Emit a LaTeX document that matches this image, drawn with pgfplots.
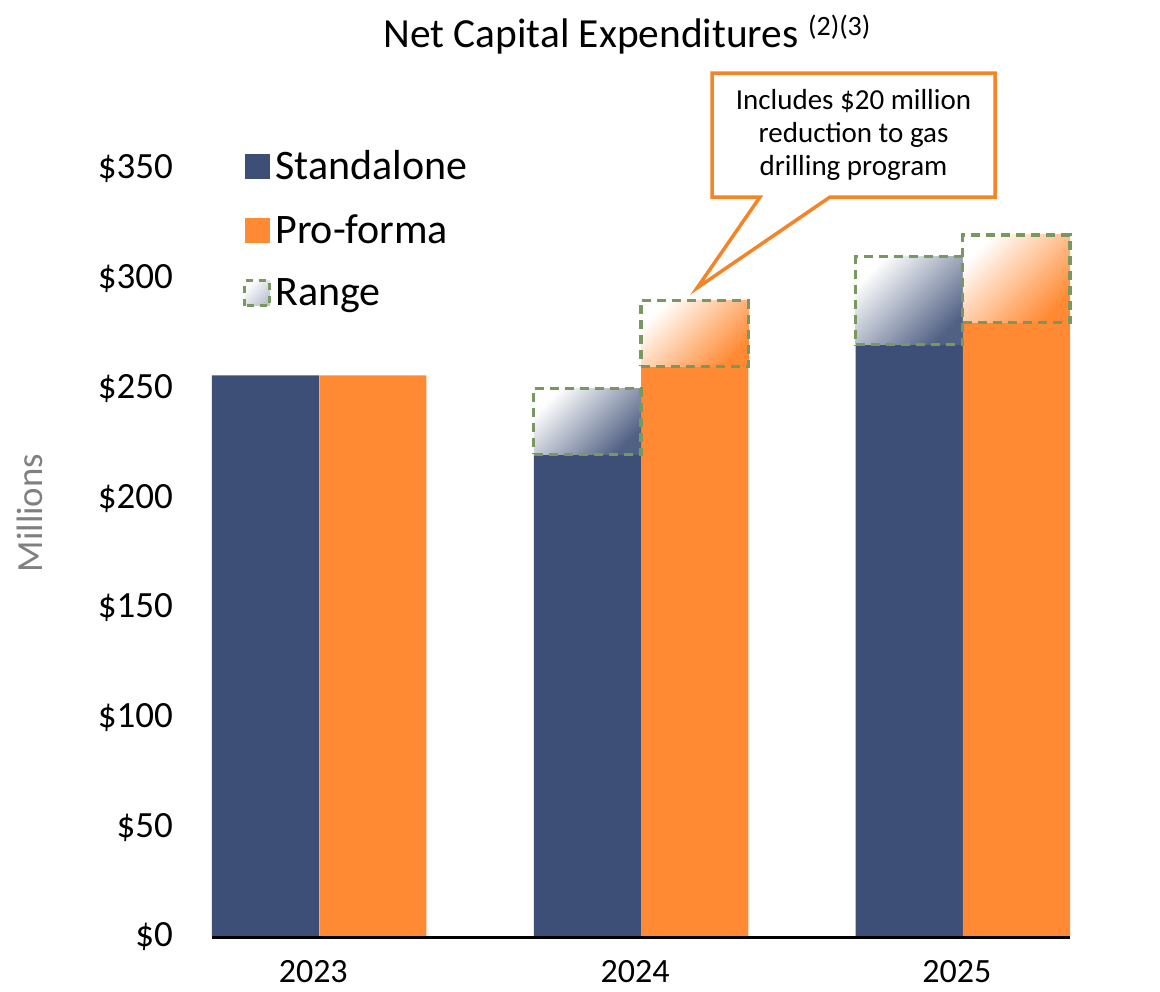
\documentclass[border=0pt]{standalone}
\usepackage{pgfplots}
\pgfplotsset{compat=1.18}
\usepackage{fontspec}
\setmainfont{Carlito}
\definecolor{sblue}{RGB}{61,79,118}
\definecolor{sorange}{RGB}{255,138,51}
\definecolor{rgreen}{RGB}{120,152,95}
\definecolor{cborder}{RGB}{245,132,39}
\definecolor{mgray}{RGB}{128,128,128}
\begin{document}
\begin{tikzpicture}
\begin{scope}[x=0.5pt,y=-0.5pt]
\useasboundingbox (0,0) rectangle (1160,991);
\end{scope}
\begin{axis}[
  at={(106pt,-468.5pt)}, anchor=south west,
  scale only axis, width=429pt, height=384pt,
  xmin=-0.3333, xmax=2.3333, ymin=0, ymax=350,
  clip=false, axis on top,
  axis x line*=bottom, axis y line*=left,
  x axis line style={black, line width=1.5pt},
  y axis line style={draw=none},
  tick style={draw=none},
  xtick={0,1,2}, xticklabels={\raisebox{-2pt}{2023},2024,2025},
  xticklabel style={font=\fontsize{17}{20}\selectfont, xshift=-3pt, yshift=-8pt},
  ytick={0,50,100,150,200,250,300,350},
  yticklabels={\$0,\$50,\$100,\$150,\$200,\$250,\$300,\$350},
  yticklabel style={font=\fontsize{18.5}{22}\selectfont, xshift=-16pt},
  legend image code/.code={\path[#1] (0pt,-6.25pt) rectangle (12.5pt,6.25pt);},
  legend style={at={(axis description cs:0.036,1.03)}, anchor=north west, draw=none, fill=none,
    font=\fontsize{21}{25}\selectfont, row sep=12pt, inner sep=0pt,
    /tikz/every even column/.append style={column sep=3pt}},
  legend cell align=left,
]
\addlegendimage{draw=none, fill=sblue}
\addlegendentry{Standalone}
\addlegendimage{draw=none, fill=sorange}
\addlegendentry{Pro-forma}
\addlegendimage{draw=rgreen, line width=1.5pt, dash pattern=on 3.5pt off 3pt, top color=white, bottom color=sblue!35, shading angle=45}
\addlegendentry{Range}
% Standalone bars
\addplot[forget plot, ybar, bar width=0.3333, bar shift=0pt, fill=sblue, draw=none]
  coordinates {(-0.16667,256) (0.83333,220) (1.83333,270)};
% Pro-forma bars
\addplot[forget plot, ybar, bar width=0.3333, bar shift=0pt, fill=sorange, draw=none]
  coordinates {(0.16667,256) (1.16667,260) (2.16667,280)};
% Range boxes
\addplot[forget plot, draw=rgreen, line width=1.7pt, dash pattern=on 4.5pt off 3pt, top color=white, middle color=sblue!16, bottom color=sblue!90, shading angle=45]
  coordinates {(0.66667,220) (1.0,220) (1.0,250) (0.66667,250)} --cycle;
\addplot[forget plot, draw=rgreen, line width=1.7pt, dash pattern=on 4.5pt off 3pt, top color=white, middle color=sorange!35, bottom color=sorange, shading angle=45]
  coordinates {(1.0,260) (1.33333,260) (1.33333,290) (1.0,290)} --cycle;
\addplot[forget plot, draw=rgreen, line width=1.7pt, dash pattern=on 4.5pt off 3pt, top color=white, middle color=sblue!16, bottom color=sblue!90, shading angle=45]
  coordinates {(1.66667,270) (2.0,270) (2.0,310) (1.66667,310)} --cycle;
\addplot[forget plot, draw=rgreen, line width=1.7pt, dash pattern=on 4.5pt off 3pt, top color=white, middle color=sorange!35, bottom color=sorange, shading angle=45]
  coordinates {(2.0,280) (2.33333,280) (2.33333,320) (2.0,320)} --cycle;
\end{axis}
\begin{scope}[x=0.5pt,y=-0.5pt]
\node[anchor=base west, inner sep=0pt] at (383,47)
  {\fontsize{20.7}{24}\selectfont Net Capital Expenditures \raisebox{6pt}{\fontsize{14}{16}\selectfont (2)(3)}};
\node[rotate=90, text=mgray, inner sep=0pt, font=\fontsize{18.4}{22}\selectfont] at (30,513) {Millions};
\draw[cborder, line width=1.75pt, fill=white, line join=miter]
  (712,197) -- (760,197) -- (697,288) -- (830,197) -- (995,197) -- (995,73) -- (712,73) -- cycle;
\node[align=center, inner sep=0pt, font=\fontsize{14.5}{16.5}\selectfont] at (853.5,135)
  {Includes \$20 million\\reduction to gas\\drilling program};
\end{scope}
\end{tikzpicture}
\end{document}
